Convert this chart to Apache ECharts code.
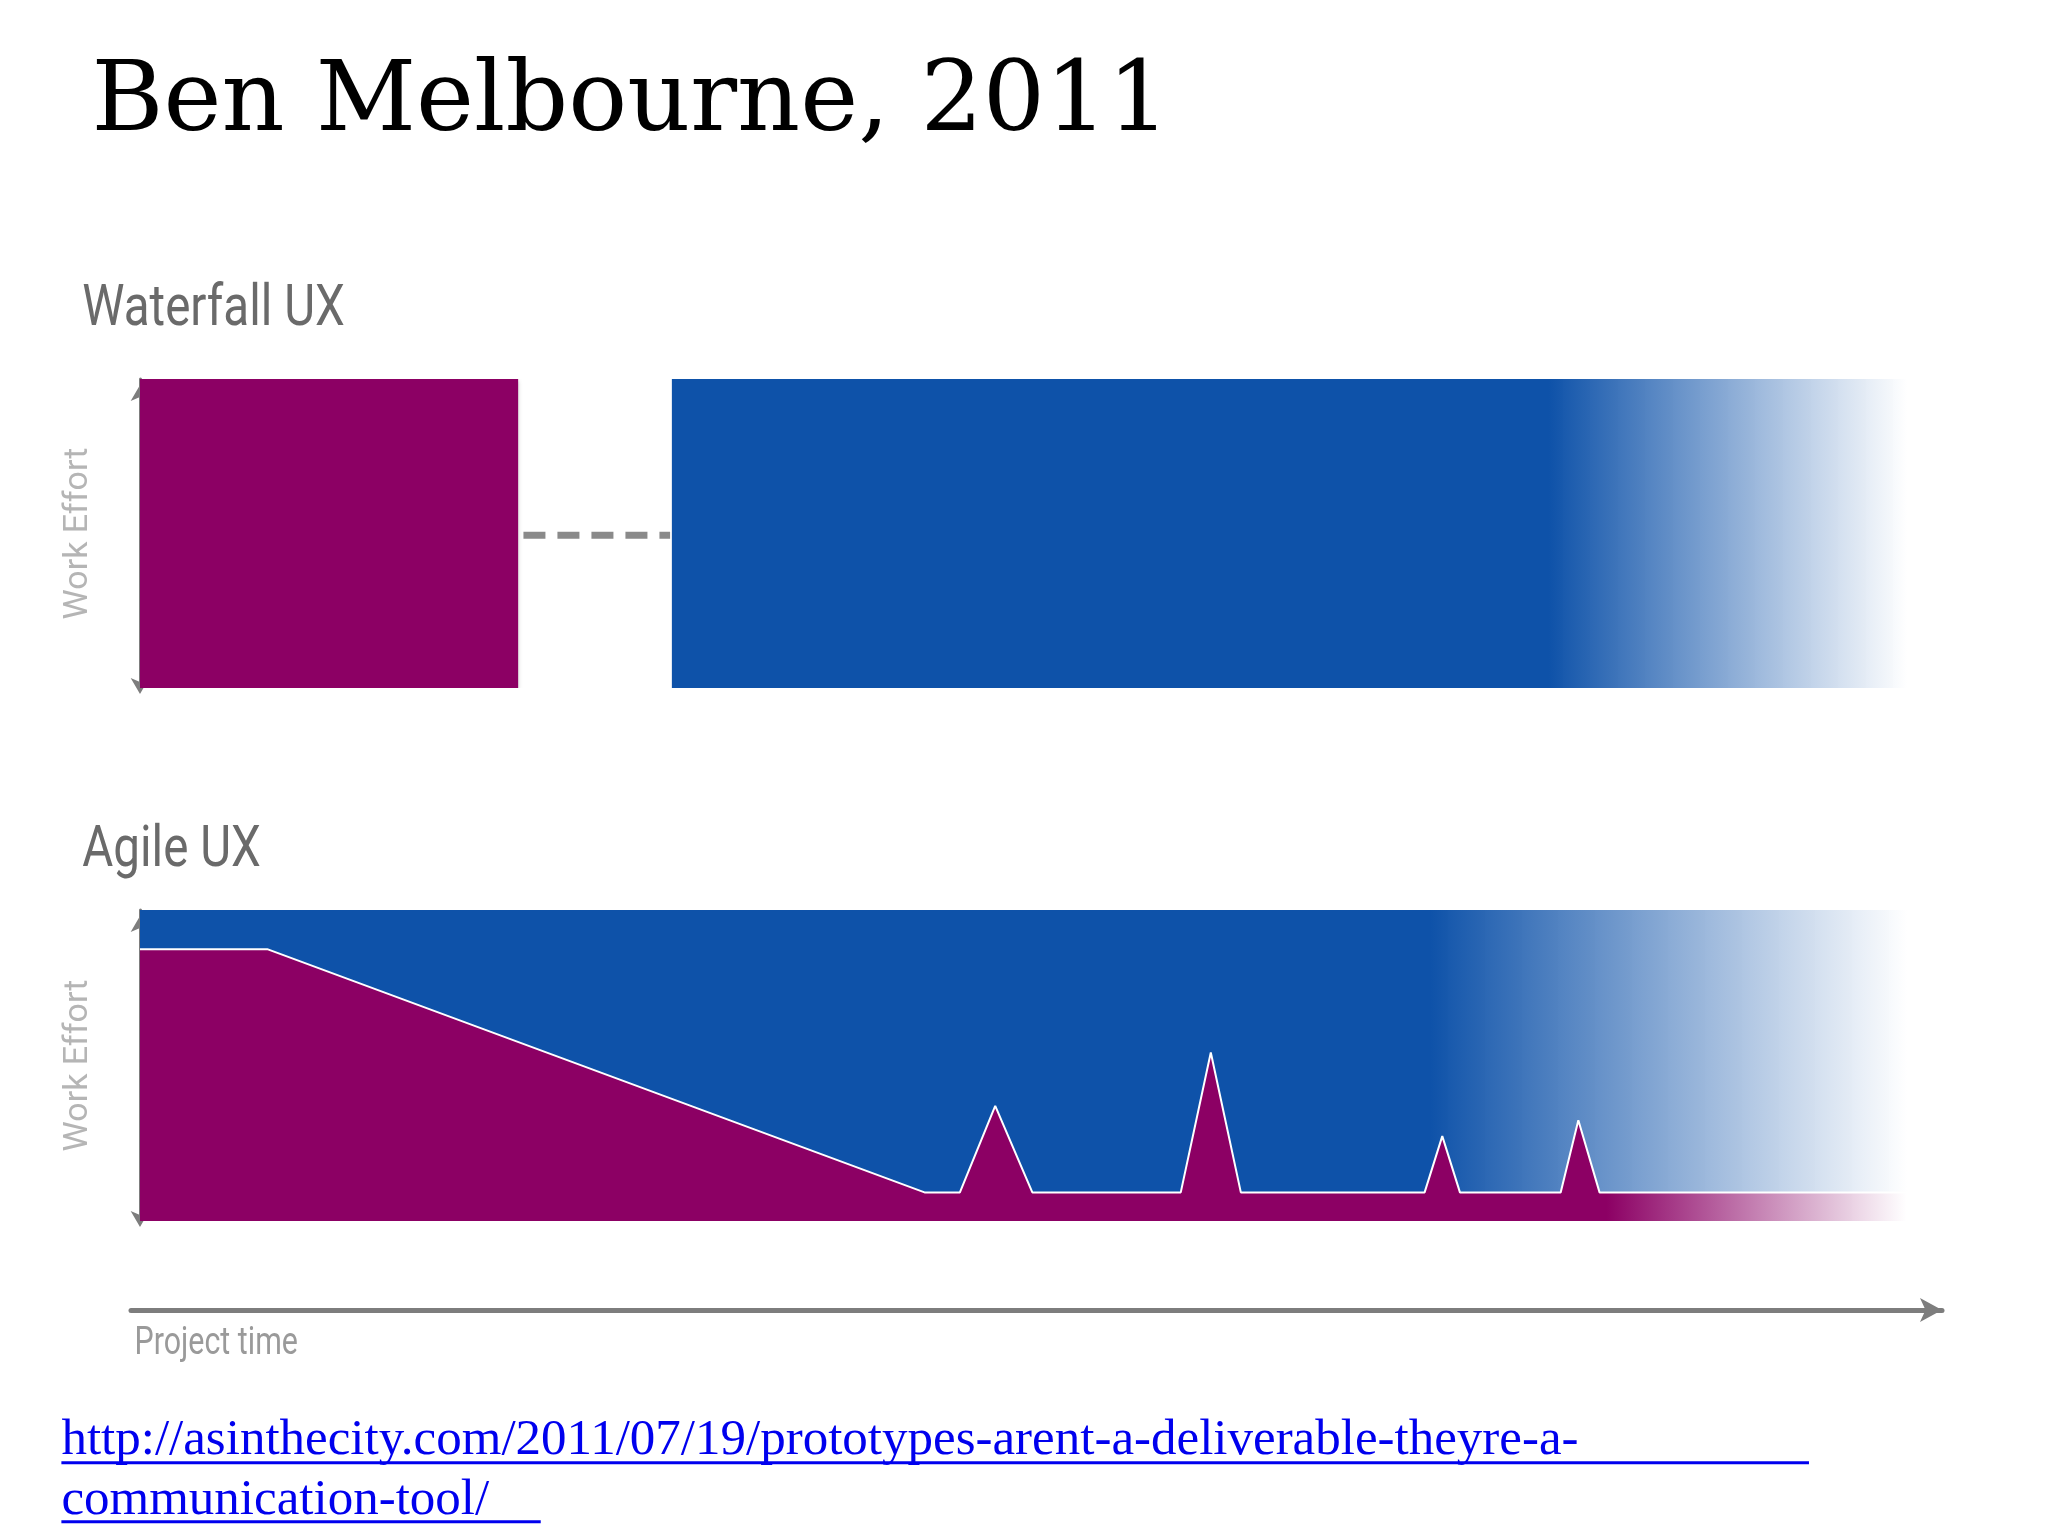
<!DOCTYPE html>
<html><head><meta charset="utf-8">
<script src="https://cdn.jsdelivr.net/npm/echarts@6/dist/echarts.min.js"></script>
<style>html,body{margin:0;padding:0;background:#fff}#c{width:2048px;height:1536px}</style>
</head><body><div id="c"></div>
<script>
// Waterfall: [time, effort]
const wfUX = [[0,100],[21.4,100]];
const wfDev = [[30.1,100],[100,100]];
const wfArrow = [[21.7,49.4],[30.0,49.4]];
// Agile
const agDev = [[0,100],[100,100]];
const agUX = [[0,87.4],[7.2,87.4],[44.4,9.2],[46.4,9.2],[48.4,37],[50.5,9.2],[58.9,9.2],[60.6,54.2],[62.3,9.2],
  [72.7,9.2],[73.7,27.3],[74.7,9.2],[80.4,9.2],[81.4,32.4],[82.6,9.2],[100,9.2]];
const labels = {title:'Ben Melbourne, 2011', wf:'Waterfall UX', ag:'Agile UX', ux:'UX', dev:'Dev',
  effort:'Work Effort', time:'Project time',
  link1:'http://asinthecity.com/2011/07/19/prototypes-arent-a-deliverable-theyre-a-', link2:'communication-tool/'};

const BLUE='#0e52a9', PURP='#8c0064';
const grad=(c,stop)=>({type:'linear',x:0,y:0,x2:1,y2:0,colorStops:[{offset:0,color:c},{offset:stop,color:c},{offset:1,color:'rgba(255,255,255,0.95)'}]});
const k=2048/1568;
const axisY = gi=>({gridIndex:gi,min:0,max:100,position:'left',offset:31,splitLine:{show:false},axisTick:{show:false},axisLabel:{show:false},
  axisLine:{show:true,symbol:['arrow','arrow'],symbolSize:[14,16],symbolOffset:[-6,-6],lineStyle:{color:'#7d7d7d',width:3}},
  name:labels.effort,nameLocation:'middle',nameGap:14,nameRotate:90,nameTextStyle:{color:'#b5b5b5',fontSize:34,fontFamily:'Roboto'}});
const axisX = gi=>({gridIndex:gi,type:'value',min:0,max:100,show:false});
const chart=echarts.init(document.getElementById('c'));
const txt=(x,y,t,size,color,family,opt)=>Object.assign({type:'text',x:x*k,y:y*k,style:{text:t,fontSize:size,fill:color,fontFamily:family,textVerticalAlign:'middle'}},opt||{});
chart.setOption({
  animation:false,
  grid:[{left:140,right:141,top:379,height:309},{left:140,right:141,top:910,height:311},{left:131,right:106,top:1308,height:2}],
  xAxis:[axisX(0),axisX(1),{gridIndex:2,type:'value',min:0,max:100,axisTick:{show:false},axisLabel:{show:false},splitLine:{show:false},
    axisLine:{show:true,symbol:['none','arrow'],symbolSize:[18,22],lineStyle:{color:'#7d7d7d',width:5}}}],
  yAxis:[axisY(0),axisY(1),{gridIndex:2,show:false,min:0,max:1}],
  series:[
    {type:'line',xAxisIndex:0,yAxisIndex:0,data:wfUX,symbol:'none',lineStyle:{width:0},areaStyle:{color:PURP,opacity:1,shadowBlur:4,shadowColor:'rgba(0,0,0,0.25)',shadowOffsetY:2}},
    {type:'line',xAxisIndex:0,yAxisIndex:0,data:wfDev,symbol:'none',lineStyle:{width:0},areaStyle:{color:grad(BLUE,0.71),opacity:1}},
    {type:'line',xAxisIndex:0,yAxisIndex:0,data:wfArrow,symbol:['none','arrow'],symbolSize:[22,22],showSymbol:false,lineStyle:{color:'#8a8a8a',width:7,type:[22,12]}},
    {type:'line',xAxisIndex:1,yAxisIndex:1,data:agDev,symbol:'none',lineStyle:{width:0},areaStyle:{color:grad(BLUE,0.73),opacity:1}},
    {type:'line',xAxisIndex:1,yAxisIndex:1,data:agUX,symbol:'none',lineStyle:{width:2,color:'#ffffff'},areaStyle:{color:grad(PURP,0.83),opacity:1}}
  ],
  graphic:[
    txt(70,80,labels.title,100,'#000','DejaVu Serif',{style:{text:labels.title,fontSize:98,fill:'#000',fontFamily:'DejaVu Serif',textVerticalAlign:'middle'}}),
    txt(63,238,labels.wf,58,'#6a6a6a','Roboto',{scaleX:0.82}),
    txt(63,652,labels.ag,58,'#6a6a6a','Roboto',{scaleX:0.82}),
    txt(252,415,labels.ux,80,'#fff','Roboto',{scaleX:0.85,style:{text:labels.ux,fontSize:80,fill:'#fff',fontFamily:'Roboto',align:'center',textVerticalAlign:'middle'}}),
    txt(995,415,labels.dev,80,'#fff','Roboto',{scaleX:0.85,style:{text:labels.dev,fontSize:80,fill:'#fff',fontFamily:'Roboto',align:'center',textVerticalAlign:'middle'}}),
    txt(623,782,labels.dev,80,'#fff','Roboto',{scaleX:0.85,style:{text:labels.dev,fontSize:80,fill:'#fff',fontFamily:'Roboto',align:'center',textVerticalAlign:'middle'}}),
    txt(232,843,labels.ux,80,'#fff','Roboto',{scaleX:0.85,style:{text:labels.ux,fontSize:80,fill:'#fff',fontFamily:'Roboto',align:'center',textVerticalAlign:'middle'}}),
    txt(103,1029,labels.time,38,'#9a9a9a','Roboto',{scaleX:0.8}),
    txt(47,1103,labels.link1,51,'#0000ee','Liberation Serif'),
    txt(47,1149,labels.link2,51,'#0000ee','Liberation Serif'),
    {type:'line',shape:{x1:47*k,y1:1120*k,x2:1385*k,y2:1120*k},style:{stroke:'#0000ee',lineWidth:3}},
    {type:'line',shape:{x1:47*k,y1:1165*k,x2:414*k,y2:1165*k},style:{stroke:'#0000ee',lineWidth:3}}
  ]
});
</script></body></html>
